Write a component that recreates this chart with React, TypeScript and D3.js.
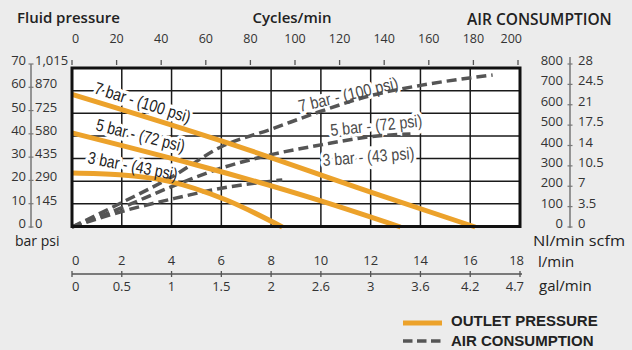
import React from "react";
import * as d3 from "d3";

// axis ticks / labels
const cycleTicks = [0, 20, 40, 60, 80, 100, 120, 140, 160, 180, 200];
const flowTicks = [0, 2, 4, 6, 8, 10, 12, 14, 16, 18];
const galLabels = ["0", "0.5", "1", "1.5", "2", "2.6", "3", "3.6", "4.2", "4.7"];
const barTicks = [0, 10, 20, 30, 40, 50, 60, 70];
const psiLabels = ["0", "145", "290", "435", "580", "725", "870", "1,015"];
const nlTicks = [0, 100, 200, 300, 400, 500, 600, 700, 800];
const scfmLabels = ["0", "3.5", "7", "10.5", "14", "17.5", "21", "24.5", "28"];

const seriesNames = ["7 bar - (100 psi)", "5 bar - (72 psi)", "3 bar - (43 psi)"];

// outlet pressure (bar axis) against flow (l/min)
const outlet7 = [[0, 57], [6, 37], [12, 15], [16.2, 0]];
const outlet5 = [[0, 40.4], [10, 11.2], [13.2, 0]];
const outlet3 = [[0, 23.2], [1.9, 22.4], [3.9, 19.6], [6.2, 11.6], [8.45, 0]];

// air consumption (Nl/min) against flow (l/min)
const air7 = [[0, 0], [2, 120], [4, 245], [6, 394], [8, 480], [10, 568], [12, 645], [14, 695], [16.9, 746]];
const air5 = [[0, 0], [2, 95], [4, 198], [6, 289], [8, 355], [10, 403], [12, 443], [13.6, 457]];
const air3 = [[0, 0], [2, 76], [4, 137], [6, 190], [8.45, 231]];

const ORANGE = "#eca22b";
const GRAY = "#555";
const AXIS_FONT = "'Open Sans', sans-serif";
const NOTE_FONT = "'Liberation Sans', Arial, sans-serif";

export default function App() {
  const x = d3.scaleLinear().domain([0, 18]).range([72, 520]);
  const xCyc = d3.scaleLinear().domain([0, 200]).range([72, 518]);
  const yBar = d3.scaleLinear().domain([0, 70]).range([227, 64]);
  const yAir = d3.scaleLinear().domain([0, 800]).range([227, 64]);
  const gridY = d3.scaleLinear().domain([0, 7]).range([226.5, 68]);

  const pLine = d3.line().x((d) => x(d[0])).y((d) => yBar(d[1])).curve(d3.curveMonotoneX);
  const aLine = d3.line().x((d) => x(d[0])).y((d) => yAir(d[1])).curve(d3.curveMonotoneX);

  const outlets = [outlet7, outlet5, outlet3];
  const airs = [air7, air5, air3];
  const noteLen = [100, 91, 91];

  // label anchors in data units
  const outletNotes = [
    { p: [0.85, 57.5], a: 17.5 },
    { p: [0.92, 41.6], a: 14 },
    { p: [0.6, 27.5], a: 11 },
  ].map((n) => ({ x: x(n.p[0]), y: yBar(n.p[1]), a: n.a }));
  const airNotes = [
    { p: [9.16, 564], a: -13.5 },
    { p: [10.41, 447], a: -6 },
    { p: [10.08, 299], a: -4.5 },
  ].map((n) => ({ x: x(n.p[0]), y: yAir(n.p[1]), a: n.a }));

  const notes = [
    ...outletNotes.map((n, i) => ({ ...n, text: seriesNames[i], len: noteLen[i], color: "#222" })),
    ...airNotes.map((n, i) => ({ ...n, text: seriesNames[i], len: noteLen[i] + (i === 0 ? 2 : 1), color: "#4a4a4a" })),
  ];

  const edgeAnchor = (i, n) => (i === 0 ? "start" : i === n - 1 ? "end" : "middle");
  const edgeShift = (i, n) => (i === n - 1 ? 4 : 0);

  return (
    <svg width={632} height={350} style={{ position: "fixed", left: 0, top: 0 }}>
      <rect width={632} height={350} fill="#ececec" />

      {/* titles */}
      <text x={17} y={23} fontFamily={AXIS_FONT} fontSize={15} fontWeight={600} fill="#222">Fluid pressure</text>
      <text x={292} y={23} textAnchor="middle" fontFamily={AXIS_FONT} fontSize={15} fontWeight={600} fill="#222">Cycles/min</text>
      <text x={467} y={25} fontFamily={AXIS_FONT} fontSize={15.5} fontWeight={600} fill="#222">AIR CONSUMPTION</text>

      {/* top cycles axis */}
      {cycleTicks.map((t, i) => (
        <g key={"c" + t}>
          <line x1={xCyc(t)} x2={xCyc(t)} y1={60} y2={65} stroke={GRAY} strokeWidth={1.3} />
          <text x={xCyc(t) + edgeShift(i, cycleTicks.length)} y={43} textAnchor={edgeAnchor(i, cycleTicks.length)}
            fontFamily={AXIS_FONT} fontSize={12.5} fill="#333">{t}</text>
        </g>
      ))}

      {/* plot area + grid */}
      <rect x={72} y={68} width={448} height={158.5} fill="#fff" />
      {flowTicks.slice(1, -1).map((t) => (
        <line key={"v" + t} x1={x(t)} x2={x(t)} y1={68} y2={226.5} stroke="#1a1a1a" strokeWidth={1.5} />
      ))}
      {d3.range(1, 7).map((r) => (
        <line key={"h" + r} x1={72} x2={520} y1={gridY(r)} y2={gridY(r)} stroke="#1a1a1a" strokeWidth={1.5} />
      ))}

      {/* note halos */}
      {notes.map((n, i) => (
        <text key={"halo" + i} x={n.x} y={n.y} transform={`rotate(${n.a},${n.x},${n.y})`}
          fontFamily={NOTE_FONT} fontSize={17} textLength={n.len} lengthAdjust="spacingAndGlyphs"
          fill="#fff" stroke="#fff" strokeWidth={7} strokeLinejoin="round">{n.text}</text>
      ))}

      {/* air consumption */}
      {airs.map((d, i) => (
        <path key={"air" + i} d={aLine(d)} fill="none" stroke={GRAY} strokeWidth={3.5} strokeDasharray="10,5" />
      ))}
      {/* outlet pressure */}
      {outlets.map((d, i) => (
        <path key={"out" + i} d={pLine(d)} fill="none" stroke={ORANGE} strokeWidth={5} />
      ))}

      {notes.map((n, i) => (
        <text key={"note" + i} x={n.x} y={n.y} transform={`rotate(${n.a},${n.x},${n.y})`}
          fontFamily={NOTE_FONT} fontSize={17} textLength={n.len} lengthAdjust="spacingAndGlyphs"
          fill={n.color}>{n.text}</text>
      ))}

      <rect x={72} y={68} width={448} height={158.5} fill="none" stroke="#111" strokeWidth={3} />

      {/* left pressure axis */}
      <line x1={31} x2={31} y1={64} y2={228} stroke="#777" strokeWidth={1.5} />
      {barTicks.map((t, i) => (
        <g key={"b" + t}>
          <line x1={28.5} x2={33.5} y1={yBar(t)} y2={yBar(t)} stroke="#777" strokeWidth={1.2} />
          <text x={26} y={yBar(t) + 1} textAnchor="end" fontFamily={AXIS_FONT} fontSize={13} fill="#333">{t}</text>
          <text x={35} y={yBar(t) + 1} fontFamily={AXIS_FONT} fontSize={13} fill="#333">{psiLabels[i]}</text>
        </g>
      ))}
      <text x={15} y={246} fontFamily={AXIS_FONT} fontSize={14} fill="#222">bar psi</text>

      {/* right air axis */}
      <line x1={570} x2={570} y1={57} y2={228} stroke="#777" strokeWidth={1.5} />
      {nlTicks.map((t, i) => (
        <g key={"n" + t}>
          <line x1={567.5} x2={572.5} y1={yAir(t)} y2={yAir(t)} stroke="#777" strokeWidth={1.2} />
          <text x={563} y={yAir(t) + 1} textAnchor="end" fontFamily={AXIS_FONT} fontSize={13} fill="#333">{t}</text>
          <text x={578} y={yAir(t) + 1} fontFamily={AXIS_FONT} fontSize={13} fill="#333">{scfmLabels[i]}</text>
        </g>
      ))}
      <text x={533} y={246} fontFamily={AXIS_FONT} fontSize={14} textLength={92} lengthAdjust="spacingAndGlyphs" fill="#222">Nl/min scfm</text>

      {/* bottom flow axis */}
      <line x1={72} x2={522} y1={274} y2={274} stroke={GRAY} strokeWidth={1.3} />
      {flowTicks.map((t, i) => (
        <g key={"f" + t}>
          <line x1={x(t)} x2={x(t)} y1={271} y2={277} stroke={GRAY} strokeWidth={1.3} />
          <text x={x(t) + edgeShift(i, flowTicks.length)} y={265} textAnchor={edgeAnchor(i, flowTicks.length)}
            fontFamily={AXIS_FONT} fontSize={13} fill="#333">{t}</text>
          <text x={x(t) + edgeShift(i, flowTicks.length)} y={291} textAnchor={edgeAnchor(i, flowTicks.length)}
            fontFamily={AXIS_FONT} fontSize={13} fill="#333">{galLabels[i]}</text>
        </g>
      ))}
      <text x={538} y={267} fontFamily={AXIS_FONT} fontSize={15} fill="#222">l/min</text>
      <text x={539} y={291} fontFamily={AXIS_FONT} fontSize={15} fill="#222">gal/min</text>

      {/* legend */}
      <line x1={403} x2={442} y1={323} y2={323} stroke={ORANGE} strokeWidth={5} />
      <text x={451} y={326} fontFamily="'Liberation Sans', Arial, sans-serif" fontWeight="bold" fontSize={15} fill="#222">OUTLET PRESSURE</text>
      <line x1={403} x2={442} y1={341} y2={341} stroke={GRAY} strokeWidth={3.5} strokeDasharray="9.5,4.5" />
      <text x={451} y={346} fontFamily="'Liberation Sans', Arial, sans-serif" fontWeight="bold" fontSize={15} fill="#222">AIR CONSUMPTION</text>
    </svg>
  );
}
